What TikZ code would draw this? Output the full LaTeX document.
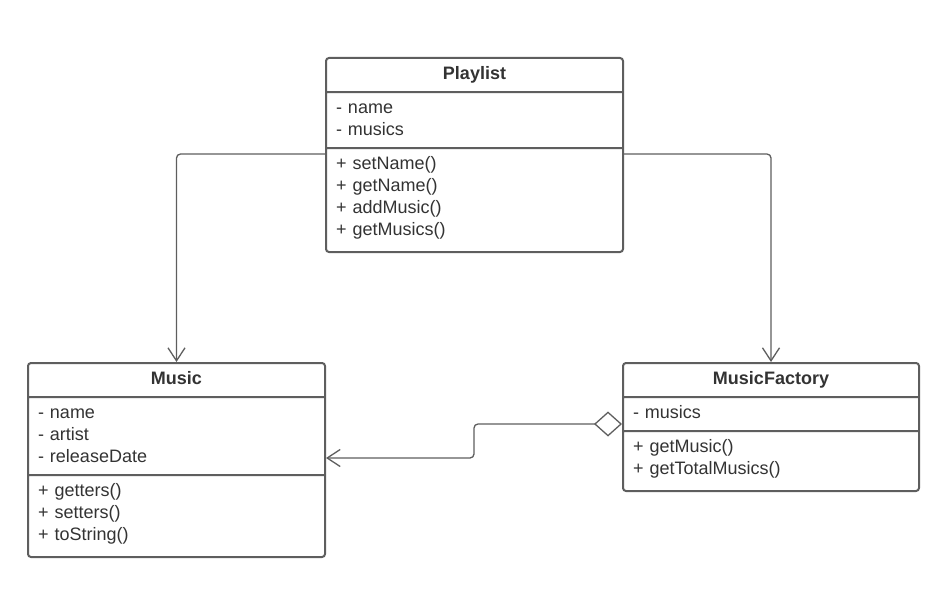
\documentclass[tikz,border=0pt]{standalone}
\usepackage{fontspec}
\setmainfont{Liberation Sans}
\usetikzlibrary{calc,arrows.meta,positioning,shapes.multipart}
\definecolor{MyLine}{HTML}{5E5E5E}
\definecolor{MyText}{HTML}{333333}
\newcommand\lastrow{\rule[-10.6pt]{0pt}{1pt}}
\newcommand\classname[1]{\hfill\textbf{#1}\strut\hfill\null}
\tikzset{%
  umlclass/.style={rectangle split, rectangle split parts=3, draw=MyLine, line width=2pt,
    rounded corners=3pt, fill=white, text=MyText, font=\fontsize{18}{22}\selectfont,
    inner xsep=10pt, inner ysep=5pt, text width=#1, align=left, anchor=north west},
  link/.style={-{Straight Barb[length=13pt,width=17pt]}, draw=MyLine, line width=1.3pt, rounded corners=4pt},
  agg/.style={{Diamond[open,fill=white,length=28pt,width=25pt]}-{Straight Barb[length=13pt,width=17pt]},
    draw=MyLine, line width=1.3pt, rounded corners=4pt}
}

\begin{document}
\begin{tikzpicture}[x=1pt, y=-1pt]
 \useasboundingbox (0,0) rectangle (950,602);

 \node[umlclass=277pt] (Playlist) at (325,57) {\classname{Playlist}
   \nodepart{two}\strut - name\\\strut - musics
   \nodepart{three}\strut + setName()\\\strut + getName()\\\strut + addMusic()\\\strut + getMusics()\lastrow};

 \node[umlclass=277pt] (Music) at (27,362) {\classname{Music}
   \nodepart{two}\strut - name\\\strut - artist\\\strut - releaseDate
   \nodepart{three}\strut + getters()\\\strut + setters()\\\strut + toString()\lastrow};

 \node[umlclass=276pt] (MusicFactory) at (622,362) {\classname{MusicFactory}
   \nodepart{two}\strut - musics
   \nodepart{three}\strut + getMusic()\\\strut + getTotalMusics()\lastrow};

 \draw[link] ([yshift=-6pt]Playlist.two split west) -| (Music.north);
 \draw[link] ([yshift=-6pt]Playlist.two split east) -| (MusicFactory.north);

 % aggregation
 \coordinate (aggfrom) at ([yshift=7pt]MusicFactory.two split west);
 \coordinate (aggto) at ([yshift=17pt]Music.two split east);
 \coordinate (aggbend) at ($(aggfrom)!0.5!(aggto)$);
 \draw[agg] (aggfrom) -| (aggbend) |- (aggto);

\end{tikzpicture}
\end{document}
